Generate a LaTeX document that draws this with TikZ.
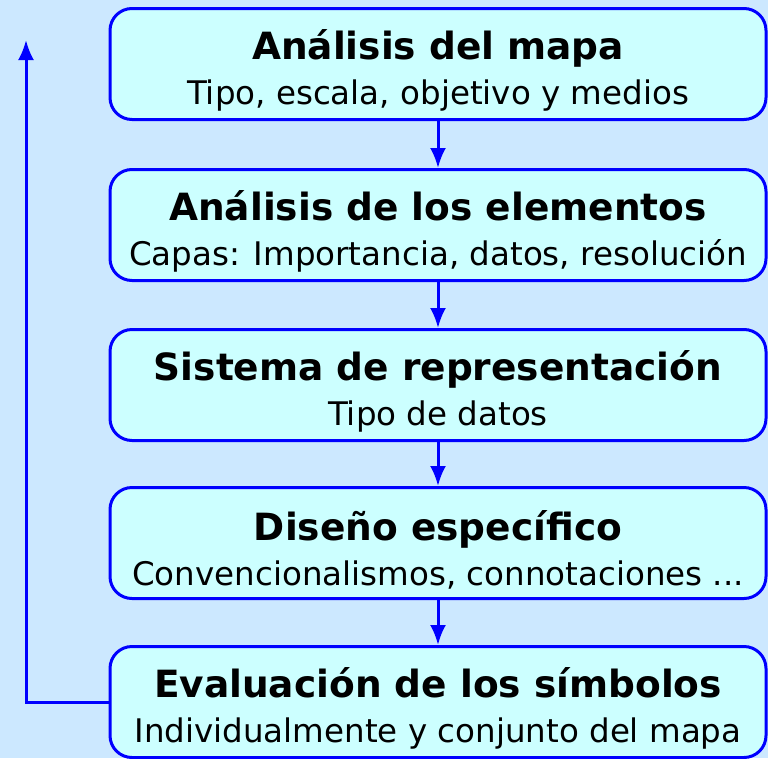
\documentclass[tikz,border=0pt]{standalone}
\usepackage{fontspec}
\setmainfont{DejaVu Sans}
\usetikzlibrary{arrows.meta,positioning}
\definecolor{bgblue}{RGB}{204,232,255}
\definecolor{boxfill}{RGB}{204,255,255}
\definecolor{lineblue}{RGB}{0,0,255}
\tikzset{
  stepbox/.style={draw=lineblue, fill=boxfill, line width=3pt, rounded corners=22pt,
    minimum width=656pt, minimum height=111pt, align=center, inner sep=0pt,
    font=\fontsize{32.5}{45}\selectfont},
  flow/.style={draw=lineblue, line width=3pt, -{Latex[length=20pt,width=16pt]}}
}
\newcommand{\ttl}[1]{{\fontsize{37.5}{45}\selectfont\bfseries\rule{0pt}{43pt}#1}}
\begin{document}
\begin{tikzpicture}[x=1pt,y=-1pt]
		\fill[bgblue] (0,0) rectangle (768,758);
		\useasboundingbox (0,0) rectangle (768,758);
		% steps
		\node[stepbox] (mapa) at (438,64) {\ttl{Análisis del mapa}\\Tipo, escala, objetivo y medios};
		\node[stepbox] (elem) at (438,225) {\ttl{Análisis de los elementos}\\Capas: Importancia, datos, resolución};
		\node[stepbox] (sist) at (438,385) {\ttl{Sistema de representación}\\Tipo de datos};
		\node[stepbox] (dise) at (438,543) {\ttl{Diseño específico}\\Convencionalismos, connotaciones ...};
		\node[stepbox] (eval) at (438,702) {\ttl{Evaluación de los símbolos}\\Individualmente y conjunto del mapa};
		% arrows
		\draw[flow] (mapa) -- (elem);
		\draw[flow] (elem) -- (sist);
		\draw[flow] (sist) -- (dise);
		\draw[flow] (dise) -- (eval);
		% feedback
		\coordinate (back) at (26,40);
		\draw[flow] (eval.west) -| (back);
\end{tikzpicture}
\end{document}
